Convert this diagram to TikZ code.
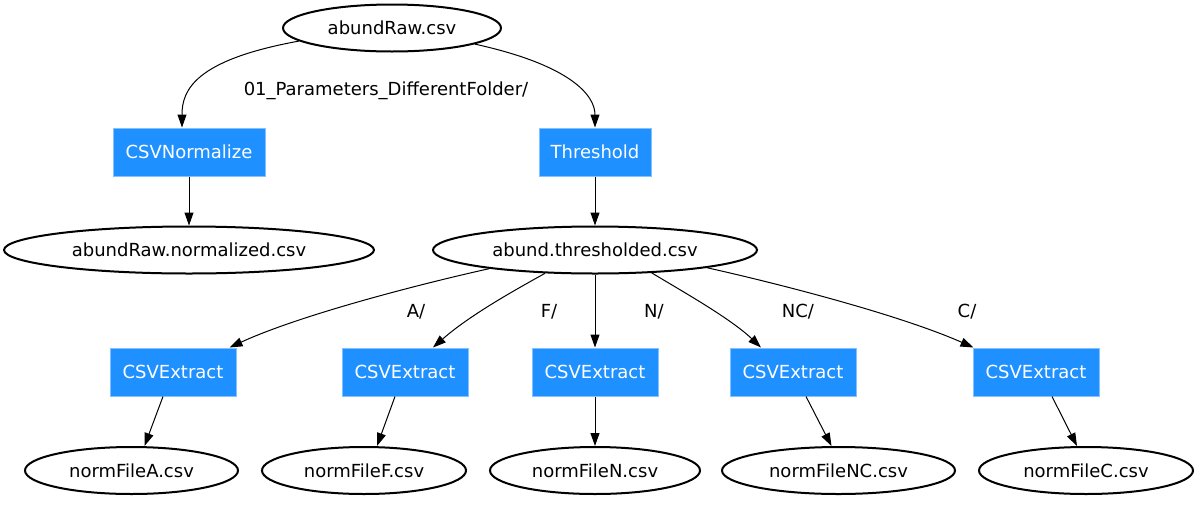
\documentclass[tikz,border=0pt]{standalone}
\usepackage{fontspec}
\setmainfont{DejaVu Sans}
\usetikzlibrary{shapes.geometric,arrows.meta}
\definecolor{dblue}{HTML}{1E90FF}
\begin{document}
\begin{tikzpicture}[x=1pt,y=-1pt,
  every node/.style={font=\fontsize{18}{21}\selectfont, inner sep=0pt},
  file/.style={ellipse, draw=black, line width=2pt, minimum height=47pt},
  proc/.style={rectangle, fill=dblue, draw=dblue!55!white, line width=1pt, text=white, minimum height=48pt},
  extract/.style={proc, minimum width=126pt},
  arr/.style={-{Triangle[length=13pt,width=9pt]}, line width=1pt},
  lbl/.style={text=black}]
\useasboundingbox (0,0) rectangle (1195,504);

\node[file, minimum width=218pt] (raw) at (392,28) {abundRaw.csv};
\node[proc, minimum width=152pt] (norm) at (189,152) {CSVNormalize};
\node[proc, minimum width=112pt] (thr) at (595,152) {Threshold};
\node[file, minimum width=370pt] (rawn) at (189,250) {abundRaw.normalized.csv};
\node[file, minimum width=324pt] (thres) at (595,250) {abund.thresholded.csv};

\node[extract] (ex1) at (173,372) {CSVExtract};
\node[extract] (ex2) at (405,372) {CSVExtract};
\node[extract] (ex3) at (595,372) {CSVExtract};
\node[extract] (ex4) at (793,372) {CSVExtract};
\node[extract] (ex5) at (1036,372) {CSVExtract};

\node[file, minimum width=213pt] (nA) at (131.5,470.5) {normFileA.csv};
\node[file, minimum width=204pt] (nF) at (364,470.5) {normFileF.csv};
\node[file, minimum width=210pt] (nN) at (595,470.5) {normFileN.csv};
\node[file, minimum width=233pt] (nNC) at (838.5,470.5) {normFileNC.csv};
\node[file, minimum width=214pt] (nC) at (1086,470.5) {normFileC.csv};

\node[lbl] (l0) at (386,91) {01\_Parameters\_DifferentFolder/};
\node[lbl] (lA) at (416,312) {A/};
\node[lbl] (lF) at (549,312) {F/};
\node[lbl] (lN) at (654,312) {N/};
\node[lbl] (lNC) at (798,312) {NC/};
\node[lbl] (lC) at (967,312) {C/};

\draw[arr] (raw.188) .. controls (195,60) and (182,90) .. ([xshift=-7pt]norm.north);
\draw[arr] (raw.349) .. controls (570,65) and (595,95) .. (thr.north);
\draw[arr] (norm.south) -- (rawn.north);
\draw[arr] (thr.south) -- (thres.north);

\draw[arr] (thres.190) .. controls (420,284) and (300,315) .. ([xshift=-7pt]ex1.north east);
\draw[arr] (thres.205) .. controls (515,290) and (470,315) .. ([xshift=28pt]ex2.north);
\draw[arr] (thres.south) -- (ex3.north);
\draw[arr] (thres.338) .. controls (680,290) and (730,318) .. ([xshift=-32pt]ex4.north);
\draw[arr] (thres.351) .. controls (780,284) and (900,315) .. ([xshift=1pt]ex5.north west);

\draw[arr] ([xshift=-10pt]ex1.south) -- ([xshift=13pt]nA.north);
\draw[arr] ([xshift=-10pt]ex2.south) -- ([xshift=13pt]nF.north);
\draw[arr] (ex3.south) -- (nN.north);
\draw[arr] ([xshift=13pt]ex4.south) -- ([xshift=-7pt]nNC.north);
\draw[arr] ([xshift=16pt]ex5.south) -- ([xshift=-9pt]nC.north);
\end{tikzpicture}
\end{document}
